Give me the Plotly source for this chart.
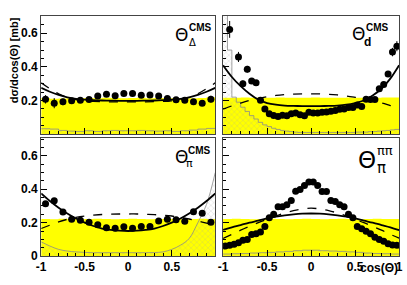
import plotly.graph_objects as go
from plotly.subplots import make_subplots

W, H = 407, 285

# ---------------- data ----------------
CURVE_X = [-1.0, -0.9, -0.8, -0.7, -0.6, -0.5, -0.4, -0.3, -0.2, -0.1, 0.0,
           0.1, 0.2, 0.3, 0.4, 0.5, 0.6, 0.7, 0.8, 0.9, 1.0]

BIN20_EDGES = [-1.0, -0.9, -0.8, -0.7, -0.6, -0.5, -0.4, -0.3, -0.2, -0.1, 0.0,
               0.1, 0.2, 0.3, 0.4, 0.5, 0.6, 0.7, 0.8, 0.9, 1.0]
BIN40_EDGES = [-1.0, -0.95, -0.9, -0.85, -0.8, -0.75, -0.7, -0.65, -0.6, -0.55, -0.5,
               -0.45, -0.4, -0.35, -0.3, -0.25, -0.2, -0.15, -0.1, -0.05, 0.0,
               0.05, 0.1, 0.15, 0.2, 0.25, 0.3, 0.35, 0.4, 0.45, 0.5,
               0.55, 0.6, 0.65, 0.7, 0.75, 0.8, 0.85, 0.9, 0.95, 1.0]

# Panel 1: Theta_Delta^CMS
p1_x = [-0.95, -0.85, -0.75, -0.65, -0.55, -0.45, -0.35, -0.25, -0.15, -0.05,
        0.05, 0.15, 0.25, 0.35, 0.45, 0.55, 0.65, 0.75, 0.85, 0.95]
p1_y = [0.207, 0.184, 0.192, 0.198, 0.202, 0.206, 0.227, 0.237, 0.229, 0.242,
        0.241, 0.231, 0.233, 0.227, 0.212, 0.204, 0.202, 0.192, 0.183, 0.208]
p1_err = [0.025, 0.03, 0.02, 0.012, 0.01, 0.01, 0.008, 0.008, 0.008, 0.008,
          0.008, 0.008, 0.008, 0.008, 0.008, 0.01, 0.01, 0.012, 0.015, 0.02]
p1_solid = [0.275, 0.252, 0.233, 0.219, 0.210, 0.205, 0.202, 0.200, 0.199, 0.198, 0.198,
            0.198, 0.199, 0.200, 0.202, 0.205, 0.210, 0.219, 0.233, 0.252, 0.275]
p1_dash = [0.305, 0.270, 0.240, 0.219, 0.205, 0.198, 0.195, 0.193, 0.192, 0.192, 0.192,
           0.192, 0.192, 0.193, 0.195, 0.198, 0.205, 0.219, 0.240, 0.270, 0.305]
p1_yellow = [0.215, 0.210, 0.212, 0.214, 0.213, 0.215, 0.214, 0.216, 0.215, 0.214,
             0.215, 0.216, 0.214, 0.215, 0.213, 0.214, 0.212, 0.213, 0.215, 0.220]
p1_hatch = [0.032, 0.030, 0.022, 0.018, 0.016, 0.020, 0.016, 0.020, 0.022, 0.020,
            0.020, 0.022, 0.020, 0.018, 0.020, 0.016, 0.020, 0.024, 0.030, 0.034]

# Panel 2: Theta_d^CMS
p2_x = [-0.925, -0.825, -0.775, -0.725, -0.675, -0.625, -0.575, -0.525, -0.475, -0.425,
        -0.375, -0.325, -0.275, -0.225, -0.175, -0.125, -0.075, -0.025, 0.025, 0.075,
        0.125, 0.175, 0.225, 0.275, 0.325, 0.375, 0.425, 0.475, 0.525, 0.575,
        0.625, 0.675, 0.725, 0.775, 0.825, 0.875, 0.925, 0.975]
p2_y = [0.623, 0.459, 0.299, 0.386, 0.316, 0.306, 0.202, 0.150, 0.121, 0.111,
        0.105, 0.113, 0.109, 0.121, 0.125, 0.115, 0.109, 0.130, 0.126, 0.126,
        0.130, 0.132, 0.136, 0.140, 0.148, 0.150, 0.159, 0.159, 0.173, 0.165,
        0.208, 0.206, 0.206, 0.270, 0.295, 0.357, 0.488, 0.523]
p2_err = [0.05, 0.03, 0.02, 0.02, 0.015, 0.012, 0.01, 0.008, 0.006, 0.006,
          0.006, 0.006, 0.006, 0.006, 0.006, 0.006, 0.006, 0.006, 0.006, 0.006,
          0.006, 0.006, 0.006, 0.006, 0.006, 0.006, 0.006, 0.006, 0.006, 0.006,
          0.008, 0.008, 0.01, 0.012, 0.015, 0.015, 0.025, 0.03]
p2_solid = [0.410, 0.340, 0.285, 0.240, 0.205, 0.185, 0.175, 0.170, 0.168, 0.167, 0.167,
            0.167, 0.168, 0.170, 0.175, 0.185, 0.200, 0.230, 0.270, 0.330, 0.410]
p2_dash = [0.148, 0.168, 0.185, 0.200, 0.212, 0.222, 0.230, 0.235, 0.238, 0.240, 0.240,
           0.239, 0.237, 0.233, 0.227, 0.219, 0.210, 0.198, 0.185, 0.170, 0.155]
p2_yellow = [0.217, 0.216, 0.218, 0.217, 0.216, 0.217, 0.218, 0.217, 0.216, 0.217,
             0.218, 0.217, 0.216, 0.217, 0.218, 0.217, 0.216, 0.217, 0.218, 0.218]
p2_hatch = [0.75, 0.50, 0.22, 0.19, 0.16, 0.135, 0.11, 0.09, 0.07, 0.055,
            0.045, 0.035, 0.028, 0.022, 0.018, 0.015, 0.012, 0.010, 0.010, 0.010,
            0.010, 0.010, 0.010, 0.010, 0.010, 0.010, 0.010, 0.010, 0.010, 0.010,
            0.012, 0.012, 0.012, 0.015, 0.015, 0.018, 0.020, 0.022, 0.025, 0.028]

# Panel 3: Theta_pi^CMS
p3_x = [-0.95, -0.85, -0.75, -0.65, -0.55, -0.45, -0.35, -0.25, -0.15, -0.05,
        0.05, 0.15, 0.25, 0.35, 0.45, 0.55, 0.65, 0.75, 0.85, 0.95]
p3_y = [0.314, 0.332, 0.264, 0.221, 0.215, 0.202, 0.188, 0.169, 0.167, 0.175,
        0.167, 0.177, 0.177, 0.210, 0.221, 0.218, 0.208, 0.266, 0.256, 0.202]
p3_err = [0.015, 0.015, 0.012, 0.01, 0.01, 0.008, 0.008, 0.008, 0.008, 0.008,
          0.008, 0.008, 0.008, 0.008, 0.008, 0.008, 0.01, 0.012, 0.015, 0.015]
p3_solid = [0.375, 0.330, 0.290, 0.255, 0.225, 0.200, 0.180, 0.165, 0.157, 0.152, 0.150,
            0.152, 0.157, 0.165, 0.180, 0.200, 0.225, 0.255, 0.290, 0.330, 0.375]
p3_dash = [0.165, 0.185, 0.205, 0.220, 0.232, 0.240, 0.245, 0.249, 0.251, 0.252, 0.252,
           0.252, 0.250, 0.248, 0.245, 0.240, 0.232, 0.222, 0.210, 0.197, 0.185]
p3_thin = [0.085, 0.060, 0.040, 0.030, 0.025, 0.022, 0.020, 0.020, 0.020, 0.020, 0.020,
           0.020, 0.020, 0.021, 0.025, 0.040, 0.065, 0.105, 0.200, 0.310, 0.500]
p3_yellow = [0.222, 0.221, 0.223, 0.222, 0.221, 0.222, 0.223, 0.222, 0.221, 0.222,
             0.223, 0.222, 0.221, 0.222, 0.223, 0.222, 0.221, 0.222, 0.223, 0.222]

# Panel 4: Theta_pi^pipi
p4_x = [-0.975, -0.925, -0.875, -0.825, -0.775, -0.725, -0.675, -0.625, -0.575, -0.525,
        -0.475, -0.425, -0.375, -0.325, -0.275, -0.225, -0.175, -0.125, -0.075, -0.025,
        0.025, 0.075, 0.125, 0.175, 0.225, 0.275, 0.325, 0.375, 0.425, 0.475,
        0.525, 0.575, 0.625, 0.675, 0.725, 0.775, 0.825, 0.875, 0.925, 0.975]
p4_y = [0.060, 0.064, 0.070, 0.080, 0.094, 0.099, 0.129, 0.133, 0.144, 0.177,
        0.230, 0.250, 0.295, 0.295, 0.308, 0.333, 0.388, 0.398, 0.423, 0.443,
        0.443, 0.423, 0.386, 0.386, 0.333, 0.327, 0.308, 0.295, 0.250, 0.230,
        0.177, 0.163, 0.148, 0.133, 0.113, 0.099, 0.089, 0.074, 0.066, 0.064]
p4_solid = [0.157, 0.172, 0.186, 0.200, 0.212, 0.225, 0.236, 0.244, 0.250, 0.254, 0.255,
            0.254, 0.250, 0.244, 0.236, 0.225, 0.212, 0.200, 0.186, 0.172, 0.155]
p4_dash = [0.105, 0.130, 0.155, 0.178, 0.200, 0.220, 0.240, 0.258, 0.272, 0.282, 0.287,
           0.282, 0.272, 0.258, 0.240, 0.220, 0.200, 0.178, 0.155, 0.130, 0.108]
p4_yellow = [0.222, 0.223, 0.222, 0.221, 0.222, 0.223, 0.222, 0.221, 0.222, 0.223,
             0.222, 0.221, 0.222, 0.223, 0.222, 0.221, 0.222, 0.223, 0.222, 0.222]
p4_hatch = [0.012, 0.014, 0.015, 0.018, 0.020, 0.022, 0.025, 0.028, 0.032, 0.035,
            0.035, 0.032, 0.030, 0.028, 0.025, 0.022, 0.018, 0.015, 0.014, 0.012]

X_TICKS_LEFT = [-1, -0.5, 0, 0.5]
X_TICKS_RIGHT = [-1, -0.5, 0, 0.5, 1]
Y_TICKS_TOP = [0.2, 0.4, 0.6]
Y_TICKS_BOTTOM = [0, 0.2, 0.4, 0.6]

# ---------------- figure ----------------
YELLOW = "#ffff00"
HATCH_FG = "#a8a8a8"
FONT = "Liberation Sans"

fig = make_subplots(rows=2, cols=2)


def steps(edges, vals):
    return list(edges), list(vals) + [vals[-1]]


def add_yellow(edges, vals, r, c):
    xs, ys = steps(edges, vals)
    fig.add_trace(go.Scatter(x=xs, y=ys, mode="lines", line=dict(width=0, shape="hv"),
                             fill="tozeroy", fillcolor=YELLOW, hoverinfo="skip",
                             showlegend=False), row=r, col=c)


def add_hatch(xs, ys, r, c, shape="linear"):
    fig.add_trace(go.Scatter(x=xs, y=ys, mode="lines",
                             line=dict(width=0.8, color="#8a8a8a", shape=shape),
                             fill="tozeroy", fillcolor="rgba(0,0,0,0)",
                             fillpattern=dict(shape="x", fgcolor=HATCH_FG,
                                              bgcolor="rgba(0,0,0,0)", size=4, solidity=0.2),
                             hoverinfo="skip", showlegend=False), row=r, col=c)


def add_curve(ys, r, c, dash):
    fig.add_trace(go.Scatter(x=CURVE_X, y=ys, mode="lines",
                             line=dict(color="black", width=1.3 if dash else 1.8,
                                       dash="dash" if dash else "solid", shape="spline"),
                             hoverinfo="skip", showlegend=False), row=r, col=c)


def add_points(xs, ys, errs, r, c):
    fig.add_trace(go.Scatter(x=xs, y=ys, mode="markers",
                             marker=dict(color="black", size=7, symbol="circle"),
                             error_y=dict(type="data", array=errs, visible=True,
                                          color="black", thickness=1, width=0) if errs else None,
                             showlegend=False), row=r, col=c)


# panel 1
add_yellow(BIN20_EDGES, p1_yellow, 1, 1)
hx, hy = steps(BIN20_EDGES, p1_hatch)
add_hatch(hx, hy, 1, 1, "hv")
add_curve(p1_dash, 1, 1, True)
add_curve(p1_solid, 1, 1, False)
add_points(p1_x, p1_y, p1_err, 1, 1)

# panel 2
add_yellow(BIN20_EDGES, p2_yellow, 1, 2)
hx, hy = steps(BIN40_EDGES, p2_hatch)
add_hatch(hx, hy, 1, 2, "hv")
add_curve(p2_dash, 1, 2, True)
add_curve(p2_solid, 1, 2, False)
add_points(p2_x, p2_y, p2_err, 1, 2)

# panel 3
add_yellow(BIN20_EDGES, p3_yellow, 2, 1)
add_hatch(CURVE_X, p3_thin, 2, 1, "spline")
add_curve(p3_dash, 2, 1, True)
add_curve(p3_solid, 2, 1, False)
add_points(p3_x, p3_y, p3_err, 2, 1)

# panel 4
add_yellow(BIN20_EDGES, p4_yellow, 2, 2)
hx, hy = steps(BIN20_EDGES, p4_hatch)
add_hatch(hx, hy, 2, 2, "hv")
add_curve(p4_dash, 2, 2, True)
add_curve(p4_solid, 2, 2, False)
add_points(p4_x, p4_y, None, 2, 2)

# ---------------- layout ----------------
def pxx(x):
    return x / W


def pxy(y):
    return 1 - y / H


col_dom = [[pxx(37), pxx(215)], [pxx(223), pxx(403)]]
row_dom = [[pxy(137.5), pxy(16)], [pxy(262.5), pxy(141)]]

tickfont = dict(family=FONT, size=12, color="black", weight="bold")

axis_common = dict(showgrid=False, zeroline=False, showline=True, mirror=True,
                   linecolor="#444", linewidth=1, ticks="inside", tickcolor="black",
                   ticklen=6, tickfont=tickfont)

names = [("xaxis", "yaxis", 0, 0), ("xaxis2", "yaxis2", 0, 1),
         ("xaxis3", "yaxis3", 1, 0), ("xaxis4", "yaxis4", 1, 1)]
for xa, ya, r, c in names:
    xticks = X_TICKS_LEFT if c == 0 else X_TICKS_RIGHT
    yticks = Y_TICKS_TOP if r == 0 else Y_TICKS_BOTTOM
    yr = [0, 0.705] if r == 0 else [0, 0.71]
    fig.update_layout(**{
        xa: dict(axis_common, domain=col_dom[c], range=[-1, 1], tickvals=xticks,
                 ticktext=[f"{v:g}" for v in xticks], showticklabels=(r == 1),
                 minor=dict(dtick=0.1, ticklen=3, ticks="inside", tickcolor="black")),
        ya: dict(axis_common, domain=row_dom[r], range=yr, tickvals=yticks,
                 ticktext=[f"{v:g}" for v in yticks], showticklabels=(c == 0),
                 minor=dict(dtick=0.05, ticklen=3, ticks="inside", tickcolor="black")),
    })

ann = []


def label(x, y, text, size, family=FONT, bold=True):
    ann.append(dict(x=pxx(x), y=pxy(y), xref="paper", yref="paper", text=text,
                    showarrow=False, xanchor="center", yanchor="middle",
                    font=dict(family=family, size=size, color="black",
                              weight="bold" if bold else "normal")))


# panel labels
label(181, 36, "Θ", 17, "DejaVu Sans", False)
label(200, 28, "CMS", 10)
label(192, 44, "Δ", 10, "DejaVu Sans", False)

label(362, 35, "Θ", 17, "DejaVu Sans", False)
label(381, 28, "CMS", 10)
label(371, 43, "d", 12)

label(180, 161, "Θ", 17, "DejaVu Sans", False)
label(199, 154, "CMS", 10)
label(189, 168, "π", 11, "DejaVu Sans", False)

label(370, 164, "Θ", 23, "DejaVu Sans", False)
label(389, 154, "ππ", 13, "DejaVu Sans", False)
label(385, 172, "π", 15, "DejaVu Sans", False)

# axis titles
ann.append(dict(x=pxx(10), y=pxy(62), xref="paper", yref="paper",
                text="dσ/dcos(Θ) [mb]", textangle=-90, showarrow=False,
                xanchor="center", yanchor="middle",
                font=dict(family=FONT, size=11, color="black", weight="bold")))
ann.append(dict(x=pxx(404), y=pxy(284), xref="paper", yref="paper",
                text="cos(Θ)", showarrow=False, xanchor="right", yanchor="bottom",
                font=dict(family=FONT, size=12, color="black", weight="bold")))

fig.update_layout(width=W, height=H, margin=dict(l=0, r=0, t=0, b=0),
                  paper_bgcolor="white", plot_bgcolor="white",
                  annotations=ann, showlegend=False)

fig.write_html("out.html", config={"displayModeBar": False},
               post_script="document.body.style.margin='0';document.body.style.overflow='hidden';")
